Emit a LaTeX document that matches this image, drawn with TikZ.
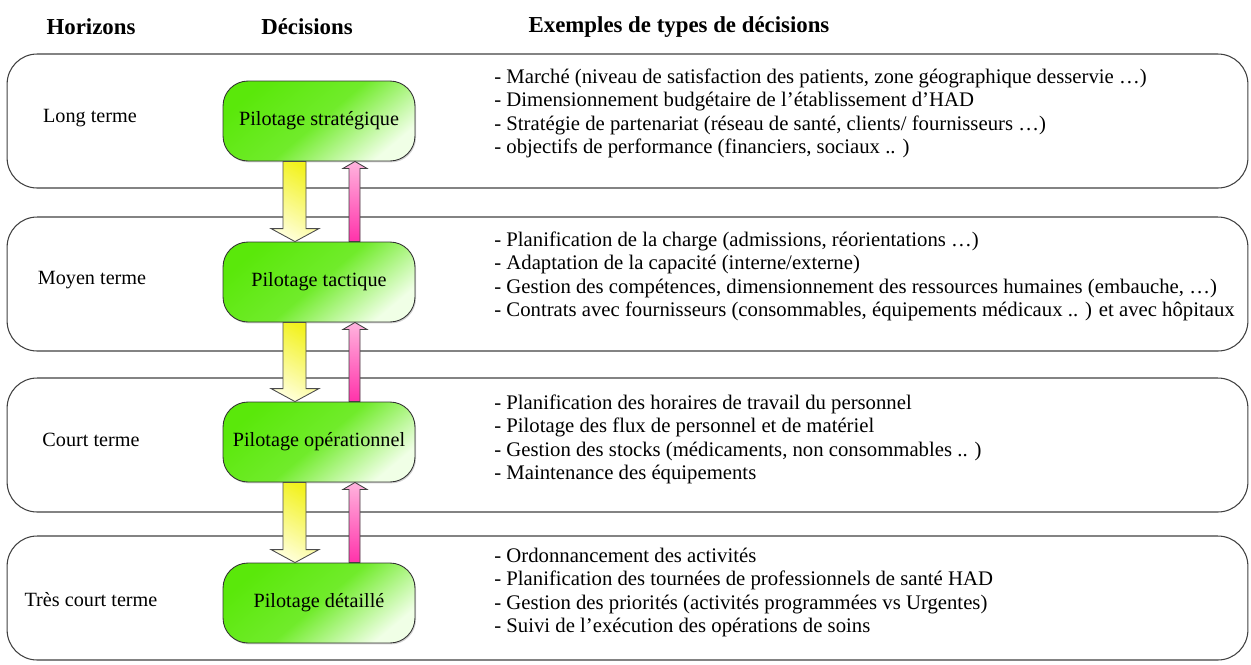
\documentclass[tikz,border=0pt]{standalone}
\usepackage{fontspec}
\setmainfont{Liberation Serif}
\usetikzlibrary{calc,shadows}
\definecolor{pilotgreen}{RGB}{90,232,10}
\definecolor{pilotlight}{RGB}{240,255,230}
\definecolor{downyellow}{RGB}{242,242,30}
\definecolor{downlight}{RGB}{255,255,215}
\definecolor{uppink}{RGB}{255,180,222}
\definecolor{upmagenta}{RGB}{255,50,170}

\begin{document}
\begin{tikzpicture}[x=0.02cm, y=-0.02cm,
    horizon/.style={draw=black!75, line width=0.6pt, rounded corners=0.6cm, minimum width=24.82cm},
    pilot/.style={draw=black!80, line width=0.5pt, rounded corners=0.5cm, minimum width=3.84cm, minimum height=1.6cm,
        top color=pilotgreen, bottom color=pilotlight, middle color=pilotgreen!85!pilotlight, shading angle=40,
        drop shadow={shadow xshift=0.6pt, shadow yshift=-0.8pt, opacity=0.35}, font=\fontsize{11.5}{13}\selectfont},
    header/.style={font=\fontsize{13}{15}\selectfont\bfseries},
    hlabel/.style={font=\fontsize{11.5}{13}\selectfont},
    examples/.style={anchor=west, align=left, inner sep=0pt, font=\fontsize{11.8}{13.4}\selectfont},
    downarrow/.style={draw=black!70, line width=0.5pt, top color=downyellow, bottom color=downlight, shading angle=-30},
    uparrow/.style={draw=black!75, line width=0.5pt, top color=uppink, bottom color=upmagenta}]

\useasboundingbox (0,0) rectangle (1251,664);

% Titles
\node[header] (thorizons) at (91,27) {Horizons};
\node[header] (tdecisions) at (307,27) {Décisions};
\node[header] (texamples) at (679,27) {Exemples de types de décisions};

% Horizon bands
\node[horizon, minimum height=2.68cm] (band1) at (627.5,121) {};
\node[horizon, minimum height=2.68cm] (band2) at (627.5,284) {};
\node[horizon, minimum height=2.68cm] (band3) at (627.5,445) {};
\node[horizon, minimum height=2.48cm] (band4) at (627.5,598) {};

\node[hlabel] (hlong) at (90,118) {Long terme};
\node[hlabel] (hmoyen) at (92,280) {Moyen terme};
\node[hlabel] (hcourt) at (91,440) {Court terme};
\node[hlabel] (htcourt) at (91,600) {Très court terme};

% Decision levels
\node[pilot] (pilot1) at (319,121) {Pilotage stratégique};
\node[pilot] (pilot2) at (319,282) {Pilotage tactique};
\node[pilot] (pilot3) at (319,442) {Pilotage opérationnel};
\node[pilot] (pilot4) at (319,603) {Pilotage détaillé};

% Arrows between levels
\foreach \a/\b in {pilot1/pilot2, pilot2/pilot3, pilot3/pilot4}{
    \draw[downarrow] ($(\a.south)+(-36,0)$) -- ($(\a.south)+(-13,0)$) -- ($(\b.north)+(-13,-13)$) -- ($(\b.north)+(0,-13)$)
        -- ($(\b.north)+(-24,0)$) -- ($(\b.north)+(-48,-13)$) -- ($(\b.north)+(-36,-13)$) -- cycle;
    \draw[uparrow] ($(\b.north)+(30,0)$) -- ($(\a.south)+(30,7)$) -- ($(\a.south)+(24,7)$) -- ($(\a.south)+(36,0)$)
        -- ($(\a.south)+(48,7)$) -- ($(\a.south)+(41,7)$) -- ($(\b.north)+(41,0)$) -- cycle;
}

% Examples of decisions
\node[examples] (ex1) at (494,113.5) {
    - Marché (niveau de satisfaction des patients, zone géographique desservie …)\\
    - Dimensionnement budgétaire de l’établissement d’HAD\\
    - Stratégie de partenariat (réseau de santé, clients/ fournisseurs …)\\
    - objectifs de performance (financiers, sociaux .. )
};
\node[examples] (ex2) at (494,276.5) {
    - Planification de la charge (admissions, réorientations …)\\
    - Adaptation de la capacité (interne/externe)\\
    - Gestion des compétences, dimensionnement des ressources humaines (embauche, …)\\
    - Contrats avec fournisseurs (consommables, équipements médicaux .. ) et avec hôpitaux
};
\node[examples] (ex3) at (494,439.5) {
    - Planification des horaires de travail du personnel\\
    - Pilotage des flux de personnel et de matériel\\
    - Gestion des stocks (médicaments, non consommables .. )\\
    - Maintenance des équipements
};
\node[examples] (ex4) at (494,592.5) {
    - Ordonnancement des activités\\
    - Planification des tournées de professionnels de santé HAD\\
    - Gestion des priorités (activités programmées vs Urgentes)\\
    - Suivi de l’exécution des opérations de soins
};

\end{tikzpicture}
\end{document}
